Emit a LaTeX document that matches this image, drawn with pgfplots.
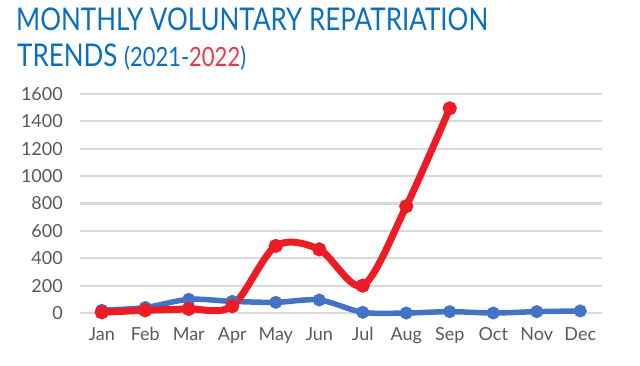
\documentclass[border=0pt]{standalone}
\usepackage{pgfplots}
\pgfplotsset{compat=1.18}
\usepackage{fontspec}
\setmainfont{Lato}
\newfontfamily\titlefont{Lato}[FakeStretch=0.83]
\definecolor{titleblue}{HTML}{0B6FBF}
\definecolor{titlered}{HTML}{E8394A}
\definecolor{lineblue}{HTML}{4472C4}
\definecolor{linered}{HTML}{ED1C24}
\definecolor{gridgray}{HTML}{D9D9D9}
\definecolor{ticktext}{HTML}{595959}
\begin{document}
\begin{tikzpicture}[x=1bp,y=1bp]
\path[use as bounding box] (0,0) rectangle (640,-365);
\node[anchor=base west, inner sep=0, text=titleblue, font=\titlefont\fontsize{31.3bp}{34bp}\selectfont] at (16,-30.7) {MONTHLY VOLUNTARY REPATRIATION};
\node[anchor=base west, inner sep=0, text=titleblue, font=\titlefont\fontsize{31.3bp}{34bp}\selectfont] at (17,-66.7) {TRENDS {\fontsize{26.5bp}{29bp}\selectfont(2021-\textcolor{titlered}{2022})}};
\begin{axis}[
  at={(80bp,-313bp)}, anchor=south west,
  scale only axis, width=522bp, height=219bp,
  xmin=0.5, xmax=12.5, ymin=0, ymax=1600,
  xtick={1,...,12},
  xticklabels={Jan,Feb,Mar,Apr,May,Jun,Jul,Aug,Sep,Oct,Nov,Dec},
  ytick={0,200,...,1600},
  axis line style={draw=none},
  major tick length=0pt,
  ymajorgrids,
  grid style={gridgray, line width=2.2bp},
  tick label style={text=ticktext, font=\fontsize{18bp}{20bp}\selectfont, inner sep=0pt},
  /pgf/number format/assume math mode=true,
  /pgf/number format/1000 sep={},
  yticklabel style={anchor=east, xshift=-17bp},
  xticklabel style={anchor=base, yshift=-27bp},
  clip=false,
]
\addplot[lineblue, line width=5.5bp, smooth, mark=*, mark size=3.6bp, mark options={solid, fill=lineblue, draw=none}]
coordinates {(1,20)(2,40)(3,100)(4,85)(5,78)(6,95)(7,5)(8,0)(9,10)(10,0)(11,10)(12,15)};
\addplot[linered, line width=7bp, smooth, mark=*, mark size=3.4bp, mark options={solid, fill=linered, draw=none}]
coordinates {(1,5)(2,20)(3,30)(4,50)(5,490)(6,465)(7,200)(8,780)(9,1495)};
\end{axis}
\end{tikzpicture}
\end{document}
